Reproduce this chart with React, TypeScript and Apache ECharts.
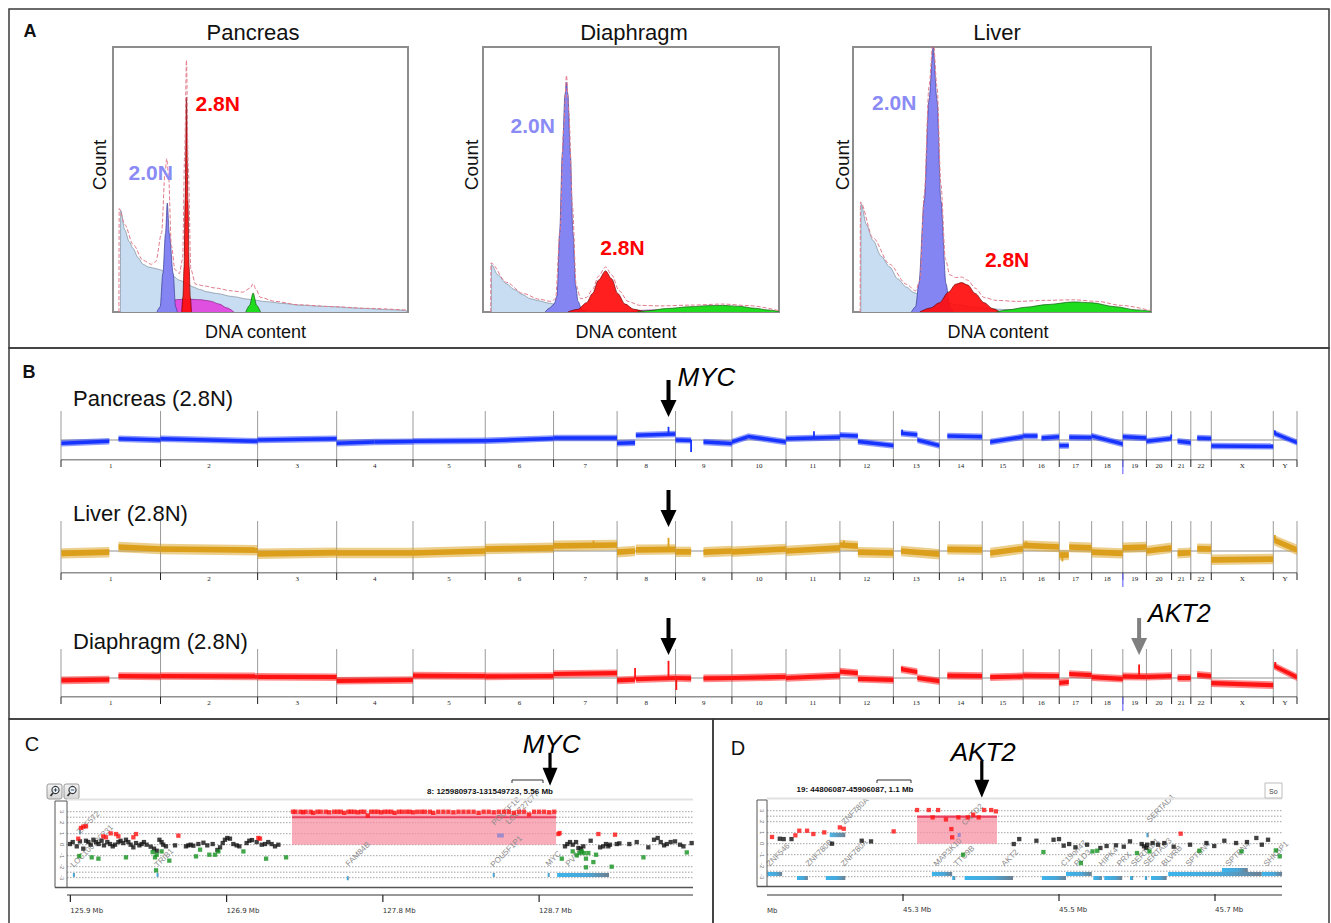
import React, { useEffect, useRef } from "react";
import * as echarts from "echarts";

const FONT = "Liberation Sans, Arial, Helvetica, sans-serif";

// ================= Panel A : DNA-content histograms =================
// x = DNA content (% of channel range), y = count (% of plot height)
const HIST_TITLES = ["Pancreas", "Diaphragm", "Liver"];

const pancreasDebris = [[2.5,0],[2.6,38.4],[4,31],[5.5,26.5],[6.8,24],[8.5,20.5],[10.2,18],[12,17],[14,16.5],[15.8,16],[18,15],[20.4,13.5],[22.5,12],[24.9,11],[27,9.5],[29.4,8.5],[32,7.6],[35,7],[40.7,5.8],[46,4.8],[52,3.9],[58,3.2],[63.3,2.6],[70,2.2],[74.7,2],[80,1.6],[86,1.3],[92,0.9],[99.5,0.6]];
const pancreasSphase = [[17,0],[18,2.5],[19.5,4.3],[22,4.7],[26,4.8],[30,4.6],[33,4.1],[36,3],[38.5,1.6],[41,0]];
const pancreasDiploid = [[14.9,0],[16,2],[16.9,14.5],[17.8,29.6],[18.4,41.1],[19.1,29.6],[20.4,14.5],[21.2,2],[21.8,0]];
const pancreasAneuploid = [[23.3,0],[23.7,5.7],[24.1,17],[24.45,42],[24.9,81],[25.4,42],[25.8,17],[26.2,5.7],[26.6,0]];
const pancreasG2 = [[45,0],[46.3,2.5],[47.5,7.2],[48.7,2.5],[50,0]];
const pancreasTotal = [[2.0,0],[2.1,39],[4,33],[6.8,25.5],[10.2,19.5],[13,18],[14.5,19],[16.5,30],[17.6,52],[18.2,57.9],[18.8,52],[19.8,25],[21,16],[22.5,14.5],[23.6,20],[24.3,60],[24.9,95],[25.5,55],[26.4,16],[28,10.5],[31,9.8],[35,9],[40,8],[44,7.5],[46.5,9],[47.5,10.7],[48.5,8.5],[50,5.5],[55,4],[63,2.7],[75,2],[86,1.4],[99.5,0.7]];

const diaphragmDebris = [[2.8,0],[2.9,17.9],[5,14],[7.9,10.7],[10.5,8.5],[13.5,6.5],[16,5],[19.1,4.2],[21.5,3.5],[23.6,3.1],[27,2.2],[30.4,1.4],[34,0.8],[38,0.3],[42,0]];
const diaphragmSphase = [[50,0],[53,0.6],[58,0.8],[63,0.7],[68,0]];
const diaphragmDiploid = [[21,0],[22.5,1.5],[24,3],[25,6],[25.9,30],[26.8,60],[27.7,82],[28.2,86.8],[28.7,82],[29.5,60],[30.4,30],[31.3,10],[32.1,4],[33.5,0.5],[35,0]];
const diaphragmAneuploid = [[28.7,0],[32,1],[35,3.5],[37,7],[39,12],[41.4,15.5],[43.5,12.5],[45.5,7],[48,3],[51,1],[54.6,0]];
const diaphragmG2 = [[52,0],[56,0.5],[62,1.3],[70,2],[76,2.4],[81,2.5],[86,2.2],[92,1.4],[96,0.8],[100,0.2]];
const diaphragmTotal = [[2.6,0],[2.7,18.5],[7.9,11.2],[13.5,7],[19.1,4.8],[23,4],[24.5,5],[26,30],[27.3,70],[28.2,89.3],[29,75],[30.2,40],[31.5,10],[33,5],[35,5.5],[37,8.5],[39,13.5],[41.4,17],[43.5,14],[46,8],[49,4],[53,2.5],[60,2.3],[70,2.6],[81,3],[90,2.4],[100,0.5]];

const liverDebris = [[2.6,0],[2.7,40.9],[4.5,33],[6.7,27],[9.5,21],[12.3,17],[15,12.5],[17.9,9.4],[20.5,7.3],[23.5,5.7],[26,4.5],[29.1,3.8],[35,2.8],[40.4,1.9],[46,1.2],[51.6,0.9],[60,0.4],[70,0]];
const liverSphase: number[][] = [];
const liverDiploid = [[19.6,0],[21,2],[22.1,10.7],[23.9,42],[25.5,80],[26.9,100],[28.2,80],[29.5,42],[31.2,10.7],[32.5,2],[33.5,0]];
const liverAneuploid = [[22.4,0],[26,1.5],[29,3.5],[32,7.5],[34.5,10.5],[36.4,11.1],[38.5,10.2],[41,7],[44,3.5],[47,1.2],[49.3,0]];
const liverG2 = [[48,0],[52,0.8],[58,1.8],[65,2.8],[74,3.8],[80,3.5],[88,2],[95,0.8],[100,0.3]];
const liverTotal = [[2.4,0],[2.5,41.5],[6.7,28],[12.3,18],[17.9,10.5],[21,8],[22.5,12],[23.9,44],[25.5,85],[26.9,103],[28.2,85],[29.5,48],[31,20],[32.5,14],[34.5,13],[36.4,13.2],[38.5,12],[41,9],[44,5.5],[48,4.4],[55,4],[65,4.4],[74,4.6],[82,4],[90,2.5],[100,0.5]];

const PLOIDY_LABELS = ["2.0N", "2.8N"];

// ================= Panel B : genome-wide copy number =================
const CHROMS = ["1","2","3","4","5","6","7","8","9","10","11","12","13","14","15","16","17","18","19","20","21","22","X","Y"];
const CHROM_SIZES_MB = [249.25,243.2,198.02,191.15,180.92,171.12,159.14,146.36,141.21,135.53,135.01,133.85,115.17,107.35,102.53,90.35,81.2,78.08,59.13,63.03,48.13,51.3,155.27,59.37];

// [chrom, startMb, endMb, log2 at start, log2 at end]
const PANCREAS_SEGMENTS: [string, number, number, number, number][] = [
  ["1",1,121,-0.08,-0.03],["1",144,249,0.03,0.0],["2",0,243,0.03,-0.03],["3",0,198,0.0,0.03],
  ["4",0,95,-0.08,-0.05],["4",95,191,-0.05,-0.04],["5",0,181,-0.03,-0.02],["6",0,171,-0.02,0.04],
  ["7",0,159,0.05,0.05],["8",0,45,-0.08,-0.07],["8",47,146,0.12,0.15],["9",0,39,0.0,-0.01],
  ["9",70,141,-0.05,-0.09],["10",0,40,-0.05,0.08],["10",40,135,0.09,-0.05],["11",0,135,0.03,0.07],
  ["12",0,45,0.12,0.1],["12",45,134,-0.04,-0.14],["13",19,60,0.17,0.13],["13",60,115,0.0,-0.14],
  ["14",20,107,0.1,0.08],["15",20,102,-0.05,0.08],["16",0,36,0.1,0.1],["16",46,90,0.05,0.08],
  ["17",0,24,-0.14,-0.14],["17",25,81,0.07,0.06],["18",0,78,0.1,-0.1],["19",0,59,0.08,0.05],
  ["20",0,63,-0.03,0.04],["21",15,48,-0.03,-0.07],["22",16,51,0.05,0.04],["X",0,155,-0.15,-0.16],
  ["Y",2,59,0.17,-0.06],
];
const PANCREAS_SPIKES: [string, number, number, number][] = [
  ["8",128.75,0.14,0.33],["9",39,0,-0.3],["11",70,0.06,0.22],["20",62,0.04,0.14],["13",22,0.17,0.26],["Y",4,0.16,0.24],
];
const LIVER_SEGMENTS: [string, number, number, number, number][] = [
  ["1",1,121,-0.06,-0.03],["1",144,249,0.1,0.05],["2",0,243,0.05,0.02],["3",0,198,-0.07,-0.04],
  ["4",0,191,-0.05,-0.05],["5",0,181,-0.05,0.0],["6",0,171,0.05,0.08],["7",0,159,0.13,0.15],
  ["8",0,45,-0.03,0.0],["8",47,146,0.03,0.04],["9",0,39,-0.02,-0.02],["9",70,141,-0.03,0.0],
  ["10",0,135,-0.02,0.05],["11",0,135,0.0,0.08],["12",0,45,0.15,0.12],["12",45,134,-0.03,-0.05],
  ["13",19,115,0.0,-0.08],["14",20,107,0.04,0.03],["15",20,102,-0.05,0.06],["16",0,90,0.14,0.1],
  ["17",0,24,-0.1,-0.1],["17",25,81,0.1,0.08],["18",0,78,-0.03,-0.06],["19",0,59,0.08,0.1],
  ["20",0,63,0.0,0.08],["21",15,48,-0.06,-0.04],["22",16,51,0.06,0.05],["X",0,155,-0.22,-0.2],
  ["Y",2,59,0.27,0.03],
];
const LIVER_SPIKES: [string, number, number, number][] = [
  ["8",128.75,0.04,0.33],["Y",4,0.27,0.4],["16",8,0.12,0.24],["17",8,-0.1,-0.26],["12",10,0.15,0.26],["7",100,0.15,0.26],
];
const DIAPHRAGM_SEGMENTS: [string, number, number, number, number][] = [
  ["1",1,121,-0.06,-0.04],["1",144,249,0.05,0.04],["2",0,243,0.05,0.04],["3",0,198,0.03,0.02],
  ["4",0,191,-0.07,-0.05],["5",0,181,0.06,0.05],["6",0,171,0.04,0.05],["7",0,159,0.1,0.12],
  ["8",0,45,-0.06,-0.04],["8",47,146,-0.03,0.0],["9",0,39,0.0,-0.01],["9",70,141,-0.01,0.0],
  ["10",0,135,0.0,0.03],["11",0,135,0.0,0.06],["12",0,45,0.16,0.12],["12",45,134,-0.02,-0.05],
  ["13",19,60,0.22,0.15],["13",60,115,0.0,-0.08],["14",20,107,0.06,0.05],["15",20,102,0.02,0.04],
  ["16",0,90,0.06,0.05],["17",0,24,-0.12,-0.1],["17",25,81,0.1,0.07],["18",0,78,0.02,-0.02],
  ["19",0,59,0.04,0.03],["20",0,63,0.03,0.05],["21",15,48,0.0,0.0],["22",16,51,0.08,0.05],
  ["X",0,155,-0.13,-0.18],["Y",2,59,0.3,0.02],
];
const DIAPHRAGM_SPIKES: [string, number, number, number][] = [
  ["8",45,-0.04,0.25],["8",128.75,0,0.43],["9",2,0,-0.3],["19",40.75,0.03,0.34],["Y",5,0.3,0.4],["13",22,0.2,0.28],
];
const TRACK_NAMES = ["Pancreas (2.8N)", "Liver (2.8N)", "Diaphragm (2.8N)"];
const TRACK_NOISE = [0.08, 0.13, 0.095]; // half-width of the probe scatter band (log2)
const MARKED_GENES: [string, string, number][] = [["MYC","8",128.75],["AKT2","19",40.75]];
const TRACK_ARROWS: [string, boolean][][] = [[["MYC",true]],[["MYC",false]],[["MYC",false],["AKT2",true]]];

// ================= Panel C : chr8 MYC locus =================
const C_REGION_TEXT = "8: 125980973-131549723, 5.56 Mb";
const C_TICKS = [125.9, 126.83, 127.76, 128.69];
const C_TICK_LABELS = ["125.9 Mb", "126.9 Mb", "127.8 Mb", "128.7 Mb"];
const C_BLACK = [[125.898,0.06],[125.914,0.24],[125.938,-0.15],[125.957,0.30],[125.977,-0.36],[125.993,0.36],[126.007,0.24],[126.021,0],[126.037,0.45],[126.053,0.24],[126.068,0.06],[126.086,0.36],[126.100,-0.06],[126.120,0.24],[126.136,0.06],[126.152,-0.15],[126.166,0],[126.186,0.24],[126.199,0.36],[126.215,0.15],[126.231,0.45],[126.245,0.24],[126.259,0],[126.275,-0.24],[126.291,0.15],[126.311,-0.06],[126.324,0.06],[126.338,0.24],[126.354,0],[126.378,-0.18],[126.398,-0.36],[126.414,-0.55],[126.430,0.45],[126.443,0.24],[126.453,0],[126.469,-0.15],[126.523,-0.06],[126.588,-0.15],[126.602,-0.06],[126.616,0],[126.632,-0.09],[126.662,0.06],[126.692,0.18],[126.715,-0.06],[126.747,0.06],[126.775,-0.48],[126.791,-0.24],[126.807,0.15],[126.820,0.45],[126.834,0.61],[126.850,0.55],[126.870,0.06],[126.890,-0.06],[126.906,-0.15],[126.949,0.15],[126.965,0.36],[126.981,0.42],[127.009,0.24],[127.039,0],[127.059,0.06],[127.078,0.24],[127.098,0.06],[127.118,-0.15],[127.138,0],
  [128.844,-0.15],[128.858,0.06],[128.874,0.24],[128.890,0],[128.910,0.24],[128.924,-0.30],[128.938,-0.36],[128.953,-0.15],[128.997,0.36],[129.053,-0.24],[129.072,-0.15],[129.088,0.06],[129.102,-0.15],[129.112,0],[129.152,0.06],[129.168,0.12],[129.227,0.06],[129.271,0.24],[129.340,-0.24],[129.374,0.45],[129.396,0.61],[129.414,0.24],[129.434,-0.06],[129.450,0.06],[129.473,0.24],[129.499,0.30],[129.529,0],[129.549,-0.15],[129.598,0.15]];
const C_RED = [[125.947,0.55],[125.963,1.52],[125.977,1.64],[125.993,1.67],[126.096,0.76],[126.112,0.67],[126.140,1.03],[126.172,0.97],[126.186,0.76],[126.275,0.67],[126.291,0.97],[126.543,0.82],[127.019,0.61],[127.029,0.55],[128.805,0.97],[128.812,1.06],[129.043,0.97],[129.142,0.91],
  [127.225,3.0],[127.24,3.0],[127.27,3.0],[127.285,2.95],[127.30,3.0],[127.33,3.0],[127.345,2.9],[127.37,3.0],[127.39,3.0],[127.42,3.0],[127.44,2.95],[127.47,3.0],[127.49,3.0],[127.51,3.0],[127.53,2.9],[127.555,3.0],[127.57,3.0],[127.59,3.0],[127.61,2.95],[127.63,3.0],[127.65,3.0],[127.67,2.65],[127.69,3.0],[127.71,3.0],[127.73,3.0],[127.75,2.95],[127.77,3.0],[127.79,3.0],[127.81,3.0],[127.83,2.9],[127.855,3.0],[127.875,3.0],[127.90,3.0],[127.92,3.0],[127.94,2.95],[127.965,3.0],[127.99,3.0],[128.01,3.0],[128.04,3.0],[128.06,2.9],[128.09,3.0],[128.12,3.0],[128.15,3.0],[128.18,2.95],[128.21,3.0],[128.24,3.0],[128.27,3.0],[128.30,3.0],[128.33,2.9],[128.36,3.0],[128.39,3.0],[128.42,2.95],[128.45,3.0],[128.48,3.0],[128.51,3.0],[128.54,2.9],[128.57,3.0],[128.60,3.0],[128.63,2.75],[128.66,3.0],[128.69,3.0],[128.72,3.0],[128.75,2.95],[128.78,3.0]];
const C_GREEN = [[125.953,-1.03],[126.027,-1.15],[126.067,-1.27],[126.231,-1.15],[126.390,-0.67],[126.404,-1.15],[126.414,-0.91],[126.410,-2.33],[126.443,-0.61],[126.489,-1.45],[126.648,-1.06],[126.672,-0.45],[126.727,-0.91],[126.761,-0.91],[126.781,-0.61],[126.930,-0.61],[127.065,-1.27],[127.184,-1.15],[128.825,-1.27],[128.890,-0.61],[128.914,-0.97],[128.930,-0.76],[128.944,-0.61],[128.957,-0.76],[128.969,-1.27],[128.983,-0.76],[129.013,-1.58],[129.029,-0.91],[128.969,-2.06],[129.122,-2.0],[129.311,-1.15],[129.569,-0.70]];
const C_AMP = [[127.219, 128.791, 2.9, 2.5]];
const C_GENE_BARS = [[125.915,125.920,-2.75],[126.413,126.418,-2.75],[127.545,127.55,-3.05],[128.414,128.419,-2.75],[128.741,128.746,-2.75],[128.797,129.106,-2.75]];
const C_CNV_BLUE = [[125.951,125.956,1.15]];
const C_CNV_PURPLE = [[128.44,128.48,0.84]];
const C_GENE_NAMES = ["ZNF572","LOC100130231","TRIB1","FAM84B","POU5F1B","LOC727677","POU5F1P1","MYC","PVT1"];
const C_GENE_LABEL_POS = [[125.945,1.06],[125.91,-1.94],[126.41,-1.93],[127.547,-1.84],[128.416,1.88],[128.499,1.97],[128.41,-1.93],[128.737,-1.84],[128.856,-1.84]];
const C_ARROW = [[128.755]];

// ================= Panel D : chr19 AKT2 locus =================
const D_REGION_TEXT = "19: 44806087-45906087, 1.1 Mb";
const D_TICKS = [45.3, 45.5, 45.7];
const D_TICK_LABELS = ["45.3 Mb", "45.5 Mb", "45.7 Mb"];
const D_BLACK = [[45.125,0],[45.142,0.45],[45.147,0.42],[45.157,0.42],[45.209,0],[45.247,0.27],[45.259,0.21],[45.442,-0.03],[45.449,0.42],[45.471,0.27],[45.493,0.36],[45.500,0.42],[45.506,-0.18],[45.513,-0.03],[45.521,-0.33],[45.536,-0.09],[45.553,-0.39],[45.561,-0.21],[45.573,-0.15],[45.583,-0.27],[45.591,0.21],[45.606,-0.03],[45.609,-0.24],[45.612,-0.39],[45.613,-0.09],[45.620,0.06],[45.627,-0.09],[45.635,0.06],[45.647,-0.27],[45.668,-0.09],[45.689,0.06],[45.699,-0.21],[45.712,0.27],[45.727,0.06],[45.741,0.15],[45.753,0.52],[45.760,-0.09],[45.768,0.36]];
const D_RED = [[45.132,0.61],[45.162,0.76],[45.167,1.18],[45.177,1.18],[45.185,0.88],[45.199,1.03],[45.219,1.48],[45.224,1.36],[45.288,1.12],[45.656,0.91],
  [45.318,3.06],[45.333,3.06],[45.338,2.39],[45.345,3.06],[45.355,2.21],[45.362,1.33],[45.363,0.58],[45.371,2.39],[45.383,2.39],[45.390,2.64],[45.397,2.39],[45.404,3.06],[45.413,3.06],[45.419,2.94]];
const D_GREEN = [[45.377,-1.0],[45.480,-0.76],[45.528,-1.76],[45.543,-0.70],[45.549,-0.64],[45.600,-0.85],[45.616,-0.70],[45.680,-0.64],[45.734,-0.70],[45.778,-0.61],[45.783,-1.15]];
const D_AMP = [[45.318, 45.4205, 2.58, 2.45]];
const D_GENE_BARS = [[45.126,45.145,-2.75],[45.164,45.178,-3.12],[45.201,45.226,-3.12],[45.337,45.363,-2.75],[45.363,45.367,-3.12],[45.379,45.441,-3.12],[45.478,45.509,-3.12],[45.509,45.542,-2.75],[45.544,45.555,-3.12],[45.558,45.581,-3.12],[45.591,45.595,-3.12],[45.610,45.613,-3.12],[45.618,45.638,-3.12],[45.640,45.760,-2.75],[45.709,45.742,-2.39],[45.760,45.786,-2.75]];
const D_CNV_BLUE = [[45.206,45.226,0.8],[45.612,45.615,0.79]];
const D_CNV_PURPLE = [[45.37,45.374,0.79]];
const D_GENE_NAMES = ["ZNF546","ZNF780B","ZNF780A","ZNF780A","MAP3K10","TTC9B","CNTD2","AKT2","C19orf47","PLD3","HIPK4","PRX","SERTAD1","SERTAD3","SERTAD1","BLVRB","SPTBN4","SPTBN4","SHKBP1"];
const D_GENE_LABEL_POS = [[45.127,-1.93],[45.177,-1.93],[45.222,-1.93],[45.223,1.88],[45.341,-1.93],[45.367,-1.93],[45.377,1.79],[45.428,-1.93],[45.504,-1.93],[45.521,-1.93],[45.553,-1.93],[45.576,-1.93],[45.594,-1.93],[45.610,-1.93],[45.614,2.07],[45.633,-1.93],[45.664,-1.93],[45.715,-1.93],[45.764,-1.93]];
const D_ARROW = [[45.401]];

const LOCUS_DOTTED = [3, 2.5, 2, 1, 0, -1, -2, -2.5, -3];
const LOCUS_YTICKS = [3, 2, 1, 0, -1, -2, -3];

// ================= layout =================
const HIST_LAYOUT = [
  { left: 113, top: 47, width: 295, cx: 253, countX: 99, labels: [[12.8, 52.5], [35.5, 78.5]] },
  { left: 483, top: 47, width: 296, cx: 634, countX: 471, labels: [[16.8, 70.5], [47.1, 24.5]] },
  { left: 853, top: 47, width: 298, cx: 997, countX: 842, labels: [[13.8, 79], [51.7, 20]] },
];
const HIST_H = 265;
const TRACK_LAYOUT = [
  { top: 411, height: 49, yMin: -0.5, yMax: 0.725, labelY: 398 },
  { top: 521, height: 52, yMin: -0.55, yMax: 0.75, labelY: 513 },
  { top: 649, height: 48, yMin: -0.475, yMax: 0.725, labelY: 641 },
];
const TRACK_COLORS = ["#1733ff", "#dc9f1c", "#ff1414"];
const TRACK_LEFT = 61, TRACK_WIDTH = 1236;

const GENOME_TOTAL = CHROM_SIZES_MB.reduce((a, b) => a + b, 0);
const CHROM_OFFSETS = CHROM_SIZES_MB.map((_, i) => CHROM_SIZES_MB.slice(0, i).reduce((a, b) => a + b, 0));
const gpos = (c: string, mb: number) => CHROM_OFFSETS[CHROMS.indexOf(c)] + mb;

function histSeries(i: number, parts: any[][], total: number[][]) {
  const styles = [
    { fill: "#c8ddf1", line: "#7e8d9c", z: 1 },
    { fill: "#e050e0", line: "#8a1f8a", z: 2 },
    { fill: "#8484f2", line: "#383890", z: 3 },
    { fill: "#ff0c0c", line: "#6a0000", z: 4 },
    { fill: "#1fdc1f", line: "#0d5a0d", z: 5 },
  ];
  const out: any[] = parts.map((d, k) => ({
    type: "line", xAxisIndex: i, yAxisIndex: i, data: d, symbol: "none", silent: true,
    smooth: 0.3, smoothMonotone: "x", z: styles[k].z,
    lineStyle: { color: styles[k].line, width: 0.7 },
    areaStyle: { color: styles[k].fill, opacity: k === 3 ? 0.92 : 1 },
  }));
  out.push({
    type: "line", xAxisIndex: i, yAxisIndex: i, data: total, symbol: "none", silent: true,
    smooth: 0.3, smoothMonotone: "x", z: 6,
    lineStyle: { color: "#e17a8c", width: 1, type: [4, 2] },
  });
  return out;
}

function trackSeries(ti: number, segments: any[], spikes: any[]) {
  const gi = 3 + ti;
  const L = TRACK_LAYOUT[ti];
  const color = TRACK_COLORS[ti];
  const noise = TRACK_NOISE[ti];
  const base = { xAxisIndex: gi, yAxisIndex: gi, silent: true };
  const chromItems = CHROMS.map((_, i) => [CHROM_OFFSETS[i], CHROM_OFFSETS[i] + CHROM_SIZES_MB[i], i]);
  const series: any[] = [];
  series.push({ ...base, type: "line", data: [[0, 0], [GENOME_TOTAL, 0]], symbol: "none", z: 1,
    lineStyle: { color: "#b5b5b5", width: 1.6 } });
  series.push({ ...base, type: "custom", data: chromItems, z: 2,
    renderItem: (_p: any, api: any) => {
      const s = api.value(0), e = api.value(1), i = api.value(2);
      const top = api.coord([s, L.yMax]);
      const bot = api.coord([s, L.yMin]);
      const endBot = api.coord([e, L.yMin]);
      const ch: any[] = [
        { type: "line", shape: { x1: top[0], y1: top[1], x2: bot[0], y2: bot[1] }, style: { stroke: "#9b9b9b", lineWidth: 1 } },
        { type: "line", shape: { x1: bot[0], y1: bot[1], x2: bot[0], y2: bot[1] + 7 }, style: { stroke: "#222", lineWidth: 1 } },
        { type: "text", x: (bot[0] + endBot[0]) / 2, y: bot[1] + 2.5, style: { text: CHROMS[i], fill: "#222", fontSize: 7, fontFamily: "Liberation Serif, serif", align: "center", verticalAlign: "top" } },
      ];
      if (i === CHROMS.length - 1) {
        const et = api.coord([e, L.yMax]);
        ch.push({ type: "line", shape: { x1: et[0], y1: et[1], x2: endBot[0], y2: endBot[1] }, style: { stroke: "#9b9b9b", lineWidth: 1 } });
        ch.push({ type: "line", shape: { x1: endBot[0], y1: endBot[1], x2: endBot[0], y2: endBot[1] + 7 }, style: { stroke: "#222", lineWidth: 1 } });
      }
      if (CHROMS[i] === "19") {
        ch.push({ type: "line", shape: { x1: bot[0], y1: bot[1], x2: bot[0], y2: bot[1] + 14 }, style: { stroke: "#6f6fff", lineWidth: 1.2 } });
      }
      return { type: "group", children: ch };
    } });
  series.push({ ...base, type: "line", data: [[0, L.yMin], [GENOME_TOTAL, L.yMin]], symbol: "none", z: 3,
    lineStyle: { color: "#222", width: 1 } });
  // probe scatter band: faint outer envelope + solid inner core
  series.push({ ...base, type: "custom", z: 4,
    data: segments.map((s: any) => [gpos(s[0], s[1]), gpos(s[0], s[2]), s[3], s[4]]),
    renderItem: (_p: any, api: any) => {
      const x0 = api.value(0), x1 = api.value(1), l0 = api.value(2), l1 = api.value(3);
      const band = (n: number) => [api.coord([x0, l0 + n]), api.coord([x1, l1 + n]), api.coord([x1, l1 - n]), api.coord([x0, l0 - n])];
      return { type: "group", children: [
        { type: "polygon", shape: { points: band(noise) }, style: { fill: color, opacity: 0.5 } },
        { type: "polygon", shape: { points: band(noise * 0.55) }, style: { fill: color } },
      ] };
    } });
  series.push({ ...base, type: "custom", z: 5,
    data: spikes.map((s: any) => [gpos(s[0], s[1]), s[2], s[3]]),
    renderItem: (_p: any, api: any) => {
      const a = api.coord([api.value(0), api.value(1)]);
      const b = api.coord([api.value(0), api.value(2)]);
      return { type: "line", shape: { x1: a[0], y1: a[1], x2: b[0], y2: b[1] }, style: { stroke: color, lineWidth: 1.8 } };
    } });
  const arrows = TRACK_ARROWS[ti];
  series.push({ ...base, type: "custom", z: 6,
    data: arrows.map((a) => {
      const gi2 = MARKED_GENES.findIndex((m) => m[0] === a[0]);
      return [gpos(MARKED_GENES[gi2][1], MARKED_GENES[gi2][2]), gi2, a[1] ? 1 : 0];
    }),
    renderItem: (_p: any, api: any) => {
      const p = api.coord([api.value(0), L.yMax]);
      const gIdx = api.value(1);
      const x = p[0], tip = p[1] + 6, topY = p[1] - 31;
      const col = gIdx === 0 ? "#000" : "#808080";
      const hl = 17, hw = 8, sw = 2;
      const ch: any[] = [{ type: "polygon", shape: { points: [[x - sw, topY], [x + sw, topY], [x + sw, tip - hl], [x + hw, tip - hl], [x, tip], [x - hw, tip - hl], [x - sw, tip - hl]] }, style: { fill: col } }];
      if (api.value(2) === 1) {
        ch.push({ type: "text", x: x + 9, y: topY - (gIdx === 0 ? 3 : 5), style: { text: MARKED_GENES[gIdx][0], fill: "#000", fontSize: gIdx === 0 ? 26 : 25, fontStyle: "italic", fontFamily: FONT, align: "left", verticalAlign: "middle" } });
      }
      return { type: "group", children: ch };
    } });
  return series;
}

function locusSeries(gi: number, cfg: any) {
  const base = { xAxisIndex: gi, yAxisIndex: gi, silent: true };
  const [xMin, xMax] = cfg.xRange;
  const series: any[] = [];
  series.push({ ...base, type: "custom", z: 1, data: LOCUS_DOTTED.map((v) => [xMin, v]),
    renderItem: (_p: any, api: any) => {
      const a = api.coord([xMin, api.value(1)]), b = api.coord([xMax, api.value(1)]);
      return { type: "line", shape: { x1: a[0], y1: a[1], x2: b[0], y2: b[1] }, style: { stroke: "#8a8a8a", lineWidth: 0.8, lineDash: [1.5, 1.5] } };
    } });
  series.push({ ...base, type: "custom", z: 2, data: cfg.amp,
    renderItem: (_p: any, api: any) => {
      const x0 = api.value(0), x1 = api.value(1), top = api.value(2), mean = api.value(3);
      const a = api.coord([x0, top]), b = api.coord([x1, 0]);
      const m0 = api.coord([x0, mean]), m1 = api.coord([x1, mean]);
      return { type: "group", children: [
        { type: "rect", shape: { x: a[0], y: a[1], width: b[0] - a[0], height: b[1] - a[1] }, style: { fill: "rgba(246,140,160,0.72)" } },
        { type: "line", shape: { x1: m0[0], y1: m0[1], x2: m1[0], y2: m1[1] }, style: { stroke: "#e8405e", lineWidth: 2 } },
      ] };
    } });
  const barRender = (fillFn: () => any, h: number) => (_p: any, api: any) => {
    const a = api.coord([api.value(0), api.value(2)]), b = api.coord([api.value(1), api.value(2)]);
    const w = Math.max(2, b[0] - a[0]);
    return { type: "rect", shape: { x: a[0], y: a[1] - h / 2, width: w, height: h }, style: { fill: fillFn() } };
  };
  series.push({ ...base, type: "custom", z: 3, data: cfg.geneBars,
    renderItem: barRender(() => new echarts.graphic.LinearGradient(0, 0, 1, 0, [{ offset: 0, color: "#3bb4ec" }, { offset: 0.6, color: "#4aa6d6" }, { offset: 1, color: "#6d7f90" }]), 4) });
  series.push({ ...base, type: "custom", z: 3, data: cfg.cnvBlue,
    renderItem: barRender(() => new echarts.graphic.LinearGradient(0, 0, 1, 0, [{ offset: 0, color: "#4cb8ec" }, { offset: 1, color: "#6d8090" }]), 4.5) });
  series.push({ ...base, type: "custom", z: 3, data: cfg.cnvPurple, renderItem: barRender(() => "#9c8acb", 4) });
  const sc = (data: number[][], color: string) => ({ ...base, type: "scatter", z: 5, data, symbol: "rect", symbolSize: 4.3, itemStyle: { color } });
  series.push(sc(cfg.black, "#111"), sc(cfg.green, "#14911e"), sc(cfg.red, "#ff1010"));
  series.push({ ...base, type: "custom", z: 4, data: cfg.labelPos.map((p: number[], i: number) => [p[0], p[1], i]),
    renderItem: (_p: any, api: any) => {
      const a = api.coord([api.value(0), api.value(1)]);
      return { type: "text", x: a[0], y: a[1], rotation: Math.PI / 4,
        style: { text: cfg.names[api.value(2)], fill: "#8c8c8c", fontSize: 8, fontFamily: FONT, align: "left", verticalAlign: "middle" } };
    } });
  series.push({ ...base, type: "custom", z: 6, data: cfg.ticks.map((t: number, i: number) => [t, -4, i]),
    renderItem: (_p: any, api: any) => {
      const a = api.coord([api.value(0), -4]);
      const ay = a[1] + 6.3;
      return { type: "group", children: [
        { type: "line", shape: { x1: a[0], y1: ay, x2: a[0], y2: ay + 7 }, style: { stroke: "#222", lineWidth: 1.2 } },
        { type: "text", x: a[0], y: ay + 16, style: { text: cfg.tickLabels[api.value(2)], fill: "#333", fontSize: 7, fontFamily: "DejaVu Sans, sans-serif", align: "left", verticalAlign: "middle" } },
      ] };
    } });
  series.push({ ...base, type: "custom", z: 6, data: LOCUS_YTICKS.map((v) => [xMin, v]),
    renderItem: (_p: any, api: any) => {
      const a = api.coord([xMin, api.value(1)]);
      return { type: "text", x: a[0] - 5.5, y: a[1], rotation: -Math.PI / 2,
        style: { text: String(api.value(1)), fill: "#777", fontSize: 6, fontFamily: FONT, align: "center", verticalAlign: "middle" } };
    } });
  series.push({ ...base, type: "custom", z: 7, data: cfg.arrow,
    renderItem: (_p: any, api: any) => {
      const a = api.coord([api.value(0), 4]);
      const x = a[0], tip = a[1] + cfg.tipOffset, topY = tip - cfg.arrowLen;
      const hl = 18, hw = 7.5, sw = 1.6;
      return { type: "group", children: [
        { type: "polygon", shape: { points: [[x - sw, topY], [x + sw, topY], [x + sw, tip - hl], [x + hw, tip - hl], [x, tip], [x - hw, tip - hl], [x - sw, tip - hl]] }, style: { fill: "#000" } },
        { type: "text", x: x + 1.5, y: topY - 8.5, style: { text: cfg.gene, fill: "#000", fontSize: 26, fontStyle: "italic", fontFamily: FONT, align: "center", verticalAlign: "middle" } },
      ] };
    } });
  return series;
}

function buildOption() {
  const grid: any[] = [
    ...HIST_LAYOUT.map((h) => ({ left: h.left, top: h.top, width: h.width, height: HIST_H, show: true, borderColor: "#8d8d8d", borderWidth: 2, backgroundColor: "#fff", containLabel: false })),
    ...TRACK_LAYOUT.map((t) => ({ left: TRACK_LEFT, top: t.top, width: TRACK_WIDTH, height: t.height, show: false, containLabel: false })),
    { left: 67, top: 800.7, width: 626, height: 88, show: false, containLabel: false },
    { left: 767, top: 799.7, width: 515, height: 88, show: false, containLabel: false },
  ];
  const cRange = [125.88, 129.606];
  const dRange = [45.1256, 45.7859];
  const xAxis: any[] = [
    ...HIST_LAYOUT.map((_, i) => ({ type: "value", gridIndex: i, min: 0, max: 100, show: false })),
    ...TRACK_LAYOUT.map((_, i) => ({ type: "value", gridIndex: 3 + i, min: 0, max: GENOME_TOTAL, show: false })),
    { type: "value", gridIndex: 6, min: cRange[0], max: cRange[1], show: false },
    { type: "value", gridIndex: 7, min: dRange[0], max: dRange[1], show: false },
  ];
  const yAxis: any[] = [
    ...HIST_LAYOUT.map((_, i) => ({ type: "value", gridIndex: i, min: 0, max: 100, show: false })),
    ...TRACK_LAYOUT.map((t, i) => ({ type: "value", gridIndex: 3 + i, min: t.yMin, max: t.yMax, show: false })),
    { type: "value", gridIndex: 6, min: -4, max: 4, show: false },
    { type: "value", gridIndex: 7, min: -4, max: 4, show: false },
  ];

  const series: any[] = [
    ...histSeries(0, [pancreasDebris, pancreasSphase, pancreasDiploid, pancreasAneuploid, pancreasG2], pancreasTotal),
    ...histSeries(1, [diaphragmDebris, diaphragmSphase, diaphragmDiploid, diaphragmAneuploid, diaphragmG2], diaphragmTotal),
    ...histSeries(2, [liverDebris, liverSphase, liverDiploid, liverAneuploid, liverG2], liverTotal),
    ...trackSeries(0, PANCREAS_SEGMENTS, PANCREAS_SPIKES),
    ...trackSeries(1, LIVER_SEGMENTS, LIVER_SPIKES),
    ...trackSeries(2, DIAPHRAGM_SEGMENTS, DIAPHRAGM_SPIKES),
    ...locusSeries(6, { xRange: cRange, amp: C_AMP, geneBars: C_GENE_BARS, cnvBlue: C_CNV_BLUE, cnvPurple: C_CNV_PURPLE, black: C_BLACK, red: C_RED, green: C_GREEN, names: C_GENE_NAMES, labelPos: C_GENE_LABEL_POS, ticks: C_TICKS, tickLabels: C_TICK_LABELS, arrow: C_ARROW, gene: "MYC", tipOffset: -15, arrowLen: 33 }),
    ...locusSeries(7, { xRange: dRange, amp: D_AMP, geneBars: D_GENE_BARS, cnvBlue: D_CNV_BLUE, cnvPurple: D_CNV_PURPLE, black: D_BLACK, red: D_RED, green: D_GREEN, names: D_GENE_NAMES, labelPos: D_GENE_LABEL_POS, ticks: D_TICKS, tickLabels: D_TICK_LABELS, arrow: D_ARROW, gene: "AKT2", tipOffset: -2, arrowLen: 37 }),
  ];

  const T = (x: number, y: number, text: string, o: any = {}) => ({
    type: "text", x, y, z: 100, rotation: o.rot || 0,
    style: { text, fill: o.fill || "#111", fontSize: o.size || 12, fontFamily: o.family || FONT, fontWeight: o.weight || "normal", fontStyle: o.italic ? "italic" : "normal", align: o.align || "center", verticalAlign: "middle" },
  });
  const border = (x: number, y: number, w: number, h: number) => ({ type: "rect", z: 90, shape: { x, y, width: w, height: h }, style: { fill: "none", stroke: "#3a3a3a", lineWidth: 1.5 } });
  const line = (x1: number, y1: number, x2: number, y2: number, stroke: string, w: number) => ({ type: "line", z: 80, shape: { x1, y1, x2, y2 }, style: { stroke, lineWidth: w } });

  const g: any[] = [
    border(9, 9, 1320, 339), border(9, 348, 1320, 371), border(9, 719, 704, 214), border(713, 719, 616, 214),
    T(30, 31, "A", { size: 18, weight: "bold" }),
    T(29, 372, "B", { size: 18, weight: "bold" }),
    T(32, 744, "C", { size: 20 }),
    T(738, 748, "D", { size: 20 }),
  ];
  HIST_LAYOUT.forEach((h, i) => {
    g.push(T(h.cx, 32, HIST_TITLES[i], { size: 22 }));
    g.push(T(h.countX, 165, "Count", { size: 19, rot: Math.PI / 2 }));
    g.push(T(h.left + h.width / 2 + (i === 2 ? -4 : -5), 332, "DNA content", { size: 18 }));
    g.push(T(h.left + (h.labels[0][0] / 100) * h.width, h.top + HIST_H - (h.labels[0][1] / 100) * HIST_H, PLOIDY_LABELS[0], { size: 21, weight: "bold", fill: "#8b8bf5" }));
    g.push(T(h.left + (h.labels[1][0] / 100) * h.width, h.top + HIST_H - (h.labels[1][1] / 100) * HIST_H, PLOIDY_LABELS[1], { size: 21, weight: "bold", fill: "#ff0000" }));
  });
  TRACK_LAYOUT.forEach((t, i) => g.push(T(73, t.labelY, TRACK_NAMES[i], { size: 22, align: "left" })));

  const btn = (x: number, minus: boolean) => ({
    type: "group", z: 95, children: [
      { type: "rect", shape: { x, y: 784, width: 15, height: 15, r: 2 }, style: { fill: new echarts.graphic.LinearGradient(0, 0, 0, 1, [{ offset: 0, color: "#f4f4f4" }, { offset: 1, color: "#d6d6d6" }]), stroke: "#9a9a9a", lineWidth: 1 } },
      { type: "circle", shape: { cx: x + 8.5, cy: 790, r: 3.6 }, style: { fill: "#e8f4ff", stroke: "#333", lineWidth: 1.1 } },
      { type: "line", shape: { x1: x + 6, y1: 793, x2: x + 3.5, y2: 796 }, style: { stroke: "#333", lineWidth: 1.8 } },
      { type: "line", shape: { x1: x + 6.8, y1: 790, x2: x + 10.2, y2: 790 }, style: { stroke: "#333", lineWidth: 0.9 } },
      ...(minus ? [] : [{ type: "line", shape: { x1: x + 8.5, y1: 788.3, x2: x + 8.5, y2: 791.7 }, style: { stroke: "#333", lineWidth: 0.9 } }]),
    ],
  });
  g.push(btn(47, false), btn(64, true));
  g.push({ type: "rect", z: 85, shape: { x: 55, y: 801, width: 12, height: 86.5 }, style: { fill: "none", stroke: "#555", lineWidth: 1 } });
  g.push(line(67, 799.5, 693, 799.5, "#e2e2e2", 2));
  g.push(line(55, 887.5, 693, 887.5, "#555", 1.5));
  g.push(line(67, 895, 693, 895, "#333", 1));
  g.push(line(512, 780, 543, 780, "#333", 1), line(512, 780, 512, 783, "#333", 1), line(543, 780, 543, 783, "#333", 1));
  g.push(T(490, 791, C_REGION_TEXT, { size: 8, weight: "bold" }));
  g.push({ type: "rect", z: 85, shape: { x: 757, y: 800, width: 10, height: 86.5 }, style: { fill: "none", stroke: "#555", lineWidth: 1 } });
  g.push(line(767, 798.5, 1282, 798.5, "#e2e2e2", 2));
  g.push(line(757, 886.5, 1282, 886.5, "#555", 1.5));
  g.push(line(767, 895, 1282, 895, "#333", 1));
  g.push(line(877, 780, 911, 780, "#333", 1), line(877, 780, 877, 783, "#333", 1), line(911, 780, 911, 783, "#333", 1));
  g.push(T(855, 789, D_REGION_TEXT, { size: 8, weight: "bold" }));
  g.push(T(767, 911, "Mb", { size: 7, align: "left", family: "DejaVu Sans, sans-serif", fill: "#333" }));
  g.push({ type: "rect", z: 95, shape: { x: 1265, y: 783, width: 17, height: 15 }, style: { fill: "#fff", stroke: "#bdbdbd", lineWidth: 1 } });
  g.push(T(1269, 791, "So", { size: 7, align: "left", fill: "#444" }));

  return {
    animation: false,
    backgroundColor: "#ffffff",
    grid, xAxis, yAxis, series,
    graphic: { elements: g },
  };
}

export default function App() {
  const ref = useRef<HTMLDivElement>(null);
  useEffect(() => {
    document.body.style.margin = "0";
    const chart = echarts.init(ref.current as HTMLDivElement, undefined, { renderer: "svg" });
    chart.setOption(buildOption() as any);
    return () => chart.dispose();
  }, []);
  return <div ref={ref} style={{ position: "absolute", left: 0, top: 0, width: 1331, height: 923, background: "#fff" }} />;
}
